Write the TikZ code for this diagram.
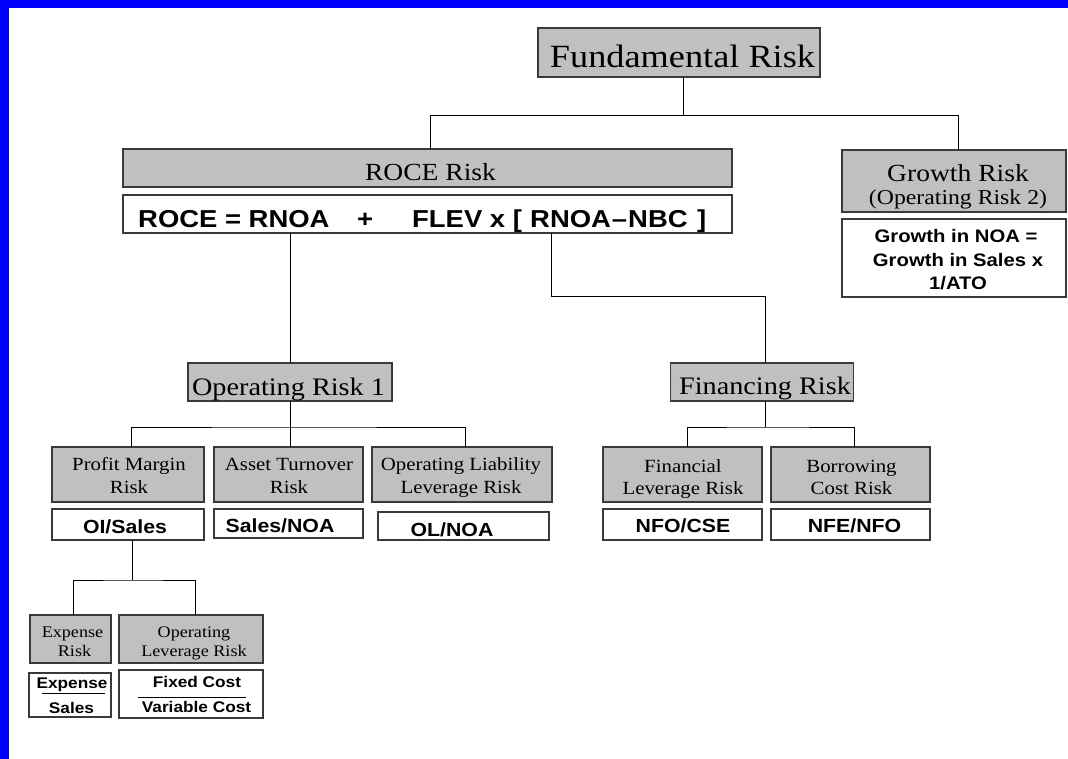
\documentclass[tikz,border=0pt]{standalone}
\usepackage{fontspec}
\setmainfont[FakeStretch=1.12]{Liberation Serif}
\newfontfamily\arialf[FakeStretch=1.12]{Liberation Sans}
\newcommand{\fs}[1]{\fontsize{#1}{#1}\selectfont}
\definecolor{boxgray}{HTML}{C0C0C0}
\definecolor{edgegray}{HTML}{3A3A3A}
\tikzset{
  gbox/.style={draw=edgegray, fill=boxgray, line width=1.3pt, inner sep=0pt, outer sep=0pt},
  wbox/.style={draw=edgegray, fill=white, line width=1.3pt, inner sep=0pt, outer sep=0pt},
  conn/.style={draw=black, line width=1pt},
  txt/.style={anchor=base, inner sep=0pt, text=black},
  ftxt/.style={anchor=base, inner sep=0pt, text=black, font=\arialf\bfseries},
}
\begin{document}
\begin{tikzpicture}[x=1pt,y=-1pt]
\useasboundingbox (0,0) rectangle (1068,759);
\fill[white] (0,0) rectangle (1068,759);
\fill[blue] (0,0) rectangle (1068,7.7);
\fill[blue] (0,0) rectangle (8.7,759);

% boxes
\node[gbox, minimum width=282pt, minimum height=49pt] (fund) at (679,52.5) {};
\node[gbox, minimum width=609pt, minimum height=38pt] (roce) at (427.5,168) {};
\node[wbox, minimum width=609pt, minimum height=38pt] (formula) at (427.5,214) {};
\node[gbox, minimum width=224pt, minimum height=62pt] (growth) at (954,181) {};
\node[wbox, minimum width=224pt, minimum height=78pt] (growthf) at (954,258) {};
\node[gbox, minimum width=204pt, minimum height=38pt] (op1) at (290,382) {};
\node[gbox, minimum width=183pt, minimum height=38pt] (fin) at (762,382) {};
\node[gbox, minimum width=152pt, minimum height=55pt] (pm) at (128,474.5) {};
\node[gbox, minimum width=149pt, minimum height=55pt] (at) at (288.5,474.5) {};
\node[gbox, minimum width=180pt, minimum height=55pt] (ol) at (462,474.5) {};
\node[wbox, minimum width=152pt, minimum height=31pt] (pmf) at (128,524.5) {};
\node[wbox, minimum width=149pt, minimum height=29pt] (atf) at (288.5,523.5) {};
\node[wbox, minimum width=171pt, minimum height=28pt] (olf) at (463.5,526) {};
\node[gbox, minimum width=159pt, minimum height=55pt] (fl) at (682.5,474.5) {};
\node[gbox, minimum width=159pt, minimum height=55pt] (bc) at (850.5,474.5) {};
\node[wbox, minimum width=159pt, minimum height=31pt] (flf) at (682.5,524.5) {};
\node[wbox, minimum width=159pt, minimum height=31pt] (bcf) at (850.5,524.5) {};
\node[gbox, minimum width=81pt, minimum height=48pt] (ex) at (70.5,639) {};
\node[gbox, minimum width=144pt, minimum height=48pt] (olv) at (191,639) {};
\node[wbox, line width=2pt, minimum width=82pt, minimum height=44pt] (exf) at (70,695) {};
\node[wbox, minimum width=144pt, minimum height=48pt] (olvf) at (191,694) {};

% connectors
\coordinate (bus1) at (683,116);
\draw[conn] ([xshift=4pt]fund.south) -- (bus1);
\draw[conn] (bus1) -| ([xshift=2.5pt]roce.north);
\draw[conn] (bus1) -| ([xshift=4pt]growth.north);
\draw[conn] (formula.south -| op1.north) -- (op1.north);
\coordinate (k1) at (551,297);
\draw[conn] (formula.south -| k1) -- (k1) -| ([xshift=3pt]fin.north);
\coordinate (b2) at (290,427);
\draw[conn] (op1.south) -- (b2);
\draw[conn] ([xshift=3.5pt]pm.north) |- (b2) -| ([xshift=3pt]ol.north);
\draw[conn] (b2) -- (b2 |- at.north);
\coordinate (b3) at (765,427);
\draw[conn] ([xshift=3pt]fin.south) -- (b3);
\draw[conn] ([xshift=4.5pt]fl.north) |- (b3) -| ([xshift=3.5pt]bc.north);
\coordinate (b4) at (132,580);
\draw[conn] ([xshift=4pt]pmf.south) -- (b4);
\draw[conn] ([xshift=2.5pt]ex.north) |- (b4) -| ([xshift=4pt]olv.north);

% texts
\node[txt, font=\fs{32.4}] (tfund) at (682.5,67.3) {Fundamental Risk};
\node[txt, font=\fs{24.6}] (troce) at (430.5,180.7) {ROCE Risk};
\node[ftxt, font=\arialf\bfseries\fs{24.5}, anchor=base west] (f1) at (138,227.3) {ROCE = RNOA};
\node[ftxt, font=\arialf\bfseries\fs{24.5}, anchor=base west] (f2) at (357,227.3) {+};
\node[ftxt, font=\arialf\bfseries\fs{24.5}, anchor=base west] (f3) at (412,227.3) {FLEV x [};
\node[ftxt, font=\arialf\bfseries\fs{24.5}, anchor=base west] (f4) at (530,227.3) {RNOA\kern1pt–\kern1ptNBC};
\node[ftxt, font=\arialf\bfseries\fs{24.5}, anchor=base west] (f5) at (697,227.3) {]};
\node[txt, font=\fs{24.6}] (tgr1) at (958,182) {Growth Risk};
\node[txt, font=\fs{21.2}] (tgr2) at (958,205) {(Operating Risk 2)};
\node[ftxt, font=\arialf\bfseries\fs{18.1}] (tg1) at (956,243) {Growth in NOA =};
\node[ftxt, font=\arialf\bfseries\fs{18.1}] (tg2) at (958,267) {Growth in Sales x};
\node[ftxt, font=\arialf\bfseries\fs{18.1}] (tg3) at (958,290) {1/ATO};
\node[txt, font=\fs{25.2}] (top1) at (288.5,395) {Operating Risk 1};
\node[txt, font=\fs{25.2}] (tfin) at (765,394) {Financing Risk};
\node[txt, font=\fs{18.6}] (tpm1) at (129,470) {Profit Margin};
\node[txt, font=\fs{18.6}] (tpm2) at (129,493) {Risk};
\node[txt, font=\fs{18.6}] (tat1) at (289,470) {Asset Turnover};
\node[txt, font=\fs{18.6}] (tat2) at (289,493) {Risk};
\node[txt, font=\fs{18.6}] (tol1) at (461,470) {Operating Liability};
\node[txt, font=\fs{18.6}] (tol2) at (461,493) {Leverage Risk};
\node[ftxt, font=\arialf\bfseries\fs{19}] (tpmf) at (125,533) {OI/Sales};
\node[ftxt, font=\arialf\bfseries\fs{19}] (tatf) at (280,532) {Sales/NOA};
\node[ftxt, font=\arialf\bfseries\fs{19}] (tolf) at (452,536) {OL/NOA};
\node[txt, font=\fs{18.6}] (tfl1) at (683,472) {Financial};
\node[txt, font=\fs{18.6}] (tfl2) at (683,494) {Leverage Risk};
\node[txt, font=\fs{18.6}] (tbc1) at (851.5,472) {Borrowing};
\node[txt, font=\fs{18.6}] (tbc2) at (851.5,494) {Cost Risk};
\node[ftxt, font=\arialf\bfseries\fs{19}] (tflf) at (683,532) {NFO/CSE};
\node[ftxt, font=\arialf\bfseries\fs{19}] (tbcf) at (854.5,532) {NFE/NFO};
\node[txt, font=\fs{16.2}] (tex1) at (72.5,637) {Expense};
\node[txt, font=\fs{16.2}] (tex2) at (74.5,656) {Risk};
\node[txt, font=\fs{16.2}] (tolv1) at (194,637) {Operating};
\node[txt, font=\fs{16.2}] (tolv2) at (194,656) {Leverage Risk};
\node[ftxt, font=\arialf\bfseries\fs{15.4}] (texf1) at (72,688) {Expense};
\node[ftxt, font=\arialf\bfseries\fs{15.4}] (texf2) at (71.5,713) {Sales};
\draw[line width=1pt] (42,693) -- (105,693);
\node[ftxt, font=\arialf\bfseries\fs{15.4}] (tolvf1) at (197,687) {Fixed Cost};
\node[ftxt, font=\arialf\bfseries\fs{15.4}] (tolvf2) at (196.5,712) {Variable Cost};
\draw[line width=1pt] (138,697) -- (246,697);
\end{tikzpicture}
\end{document}
